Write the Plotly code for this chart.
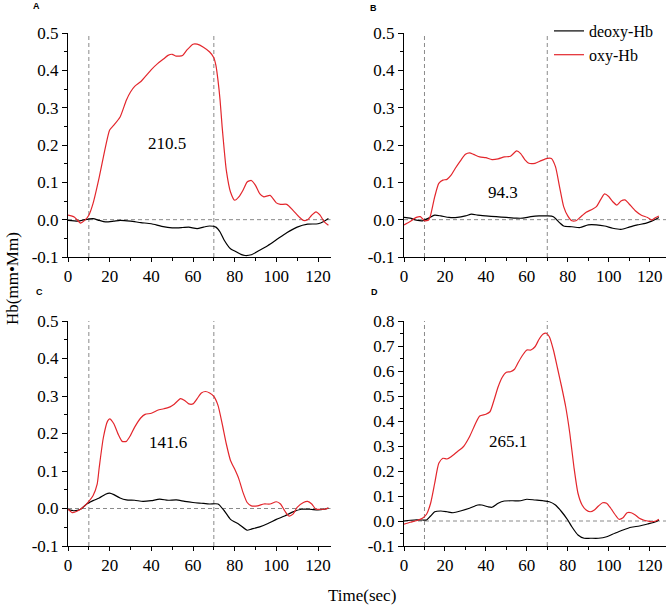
import plotly.graph_objects as go

# ---------------- data ----------------
# Panel A
a_oxy_t = [0, 3, 6, 8, 10, 12, 15, 18, 20, 22, 25, 28, 30, 32, 35, 38, 40, 43, 46, 48, 50, 52, 55, 57, 60, 62, 65, 68, 70, 71, 72, 73, 74, 75, 76, 78, 80, 82, 84, 86, 88, 90, 92, 94, 97, 100, 102, 105, 108, 111, 113, 115, 117, 119, 121, 123, 125]
a_oxy_v = [0.012, 0.007, -0.009, -0.002, 0.012, 0.043, 0.114, 0.195, 0.24, 0.253, 0.275, 0.32, 0.342, 0.357, 0.37, 0.389, 0.402, 0.418, 0.431, 0.44, 0.443, 0.438, 0.44, 0.454, 0.47, 0.47, 0.462, 0.449, 0.434, 0.413, 0.373, 0.32, 0.248, 0.186, 0.132, 0.074, 0.052, 0.061, 0.079, 0.101, 0.105, 0.092, 0.07, 0.061, 0.065, 0.045, 0.041, 0.041, 0.025, 0.007, -0.002, 0.0, 0.012, 0.021, 0.012, -0.006, -0.015]
a_deoxy_t = [0, 5, 8, 12, 15, 18, 22, 25, 30, 35, 40, 45, 50, 55, 58, 62, 65, 68, 71, 73, 75, 78, 80, 83, 85, 88, 92, 96, 100, 105, 110, 115, 120, 123, 125]
a_deoxy_v = [-0.002, -0.004, 0.0, 0.003, -0.002, -0.006, -0.004, -0.002, -0.004, -0.008, -0.011, -0.018, -0.022, -0.021, -0.02, -0.024, -0.02, -0.017, -0.02, -0.033, -0.055, -0.078, -0.084, -0.093, -0.096, -0.094, -0.082, -0.069, -0.054, -0.035, -0.02, -0.012, -0.011, -0.004, 0.003]

# Panel B
b_oxy_t = [0, 3, 6, 8, 10, 12, 13, 15, 17, 19, 21, 23, 25, 28, 30, 32, 34, 37, 40, 43, 46, 49, 52, 55, 57, 59, 61, 64, 67, 70, 72, 74, 76, 78, 80, 82, 84, 86, 89, 92, 94, 96, 98, 100, 102, 104, 106, 108, 110, 113, 116, 119, 121, 123, 124.5]
b_oxy_v = [-0.014, -0.005, 0.006, 0.008, -0.003, -0.001, 0.012, 0.061, 0.097, 0.106, 0.108, 0.119, 0.137, 0.161, 0.175, 0.179, 0.175, 0.168, 0.166, 0.161, 0.163, 0.168, 0.17, 0.184, 0.177, 0.161, 0.151, 0.151, 0.158, 0.164, 0.164, 0.142, 0.088, 0.035, 0.01, -0.003, -0.003, 0.006, 0.02, 0.028, 0.035, 0.053, 0.069, 0.062, 0.048, 0.039, 0.05, 0.053, 0.042, 0.024, 0.012, 0.006, -0.001, 0.006, 0.01]
b_deoxy_t = [0, 3, 6, 9, 12, 15, 18, 22, 26, 30, 33, 36, 40, 45, 50, 55, 58, 62, 66, 70, 73, 76, 78, 82, 86, 90, 94, 98, 102, 106, 110, 114, 118, 121, 124.5]
b_deoxy_v = [0.006, 0.004, -0.001, -0.003, 0.004, 0.012, 0.01, 0.006, 0.006, 0.01, 0.015, 0.012, 0.01, 0.008, 0.006, 0.004, 0.004, 0.008, 0.01, 0.01, 0.008, -0.008, -0.017, -0.019, -0.021, -0.014, -0.014, -0.017, -0.023, -0.026, -0.02, -0.014, -0.01, -0.004, 0.006]

# Panel C
c_oxy_t = [0, 2, 4, 6, 8, 10, 12, 14, 15, 17, 19, 20, 22, 24, 26, 28, 30, 32, 35, 37, 40, 43, 46, 49, 51, 54, 56, 58, 60, 62, 64, 66, 68, 70, 72, 74, 76, 78, 80, 82, 84, 86, 88, 91, 94, 97, 100, 102, 104, 106, 108, 110, 113, 115, 117, 119, 121, 123, 125]
c_oxy_v = [-0.002, -0.011, -0.008, -0.002, 0.007, 0.019, 0.034, 0.065, 0.11, 0.19, 0.233, 0.239, 0.226, 0.199, 0.179, 0.179, 0.195, 0.217, 0.242, 0.251, 0.254, 0.262, 0.266, 0.271, 0.278, 0.293, 0.288, 0.279, 0.279, 0.293, 0.308, 0.312, 0.308, 0.299, 0.275, 0.226, 0.172, 0.128, 0.105, 0.079, 0.043, 0.016, 0.007, 0.007, 0.012, 0.012, 0.018, 0.012, -0.006, -0.02, -0.015, 0.003, 0.016, 0.019, 0.012, -0.002, -0.002, -0.002, 0.001]
c_deoxy_t = [0, 3, 6, 9, 12, 15, 18, 20, 22, 25, 28, 32, 36, 40, 44, 48, 52, 56, 60, 64, 68, 72, 75, 78, 82, 86, 88, 92, 96, 100, 104, 108, 112, 116, 120, 123, 125]
c_deoxy_v = [-0.002, -0.006, -0.002, 0.012, 0.021, 0.028, 0.038, 0.041, 0.037, 0.028, 0.023, 0.022, 0.019, 0.021, 0.025, 0.022, 0.023, 0.019, 0.016, 0.014, 0.012, 0.012, -0.006, -0.029, -0.042, -0.058, -0.055, -0.049, -0.04, -0.029, -0.02, -0.009, -0.002, -0.002, -0.004, -0.002, 0.001]

# Panel D
d_oxy_t = [0, 3, 6, 9, 11, 13, 15, 17, 19, 21, 23, 26, 29, 32, 35, 37, 40, 42, 44, 46, 48, 50, 52, 54, 56, 58, 60, 62, 64, 66, 68, 69.5, 71, 73, 75, 77, 79, 81, 83, 85, 87, 89, 91, 93, 95, 97, 99, 101, 103, 105, 107, 109, 111, 113, 115, 117, 119, 121, 123, 124.5]
d_oxy_v = [-0.013, -0.005, 0.001, 0.011, 0.027, 0.071, 0.151, 0.231, 0.251, 0.248, 0.257, 0.277, 0.297, 0.337, 0.391, 0.42, 0.427, 0.437, 0.484, 0.537, 0.575, 0.595, 0.597, 0.607, 0.637, 0.664, 0.684, 0.684, 0.697, 0.727, 0.748, 0.751, 0.737, 0.684, 0.611, 0.537, 0.457, 0.351, 0.217, 0.111, 0.064, 0.044, 0.037, 0.044, 0.06, 0.073, 0.071, 0.051, 0.027, 0.007, 0.013, 0.033, 0.033, 0.024, 0.011, 0.004, 0.0, -0.003, 0.0, 0.007]
d_deoxy_t = [0, 5, 9, 11, 13, 15, 18, 21, 24, 28, 32, 36, 38, 41, 43, 46, 49, 53, 57, 60, 64, 68, 71, 74, 77, 80, 82, 85, 88, 91, 95, 99, 103, 107, 111, 115, 119, 123, 124.5]
d_deoxy_v = [0.0, 0.004, 0.004, 0.004, 0.02, 0.037, 0.04, 0.037, 0.033, 0.041, 0.051, 0.064, 0.064, 0.057, 0.055, 0.071, 0.08, 0.081, 0.081, 0.087, 0.084, 0.081, 0.077, 0.064, 0.037, 0.004, -0.023, -0.056, -0.069, -0.069, -0.069, -0.063, -0.049, -0.036, -0.025, -0.02, -0.012, -0.003, 0.004]

panel_letters = ["A", "B", "C", "D"]
area_labels = ["210.5", "94.3", "141.6", "265.1"]
area_label_x = [47.5, 48.5, 48.2, 51.0]
area_label_y = [0.203, 0.072, 0.177, 0.317]

x_tick_vals = [0, 20, 40, 60, 80, 100, 120]
x_tick_text = ["0", "20", "40", "60", "80", "100", "120"]
y_tick_vals = [-0.1, 0.0, 0.1, 0.2, 0.3, 0.4, 0.5]
y_tick_text = ["-0.1", "0.0", "0.1", "0.2", "0.3", "0.4", "0.5"]
yd_tick_vals = [-0.1, 0.0, 0.1, 0.2, 0.3, 0.4, 0.5, 0.6, 0.7, 0.8]
yd_tick_text = ["-0.1", "0.0", "0.1", "0.2", "0.3", "0.4", "0.5", "0.6", "0.7", "0.8"]
stim_on, stim_off = 10, 70

# ---------------- figure ----------------
W, H = 669, 610
RED = "#e3262c"
GRAY = "#8a8a8a"
SERIF = "Liberation Serif"

fig = go.Figure()

panels = [
    (a_oxy_t, a_oxy_v, a_deoxy_t, a_deoxy_v),
    (b_oxy_t, b_oxy_v, b_deoxy_t, b_deoxy_v),
    (c_oxy_t, c_oxy_v, c_deoxy_t, c_deoxy_v),
    (d_oxy_t, d_oxy_v, d_deoxy_t, d_deoxy_v),
]

# pixel boxes (left, right, top, bottom)
boxes = [
    (68, 330.5, 33, 257),
    (404, 666, 33, 257),
    (68, 330.5, 321, 546),
    (404, 666, 321, 546),
]
xranges = [[0, 126], [0, 128], [0, 126], [0, 128]]
yranges = [[-0.1, 0.5], [-0.1, 0.5], [-0.1, 0.5], [-0.1, 0.8]]

for i, (ot, ov, dt, dv) in enumerate(panels):
    xa = "x" if i == 0 else f"x{i+1}"
    ya = "y" if i == 0 else f"y{i+1}"
    fig.add_trace(go.Scatter(x=dt, y=dv, mode="lines", name="deoxy-Hb",
                             line=dict(color="black", width=1.2, shape="spline", smoothing=0.6),
                             showlegend=(i == 0), xaxis=xa, yaxis=ya))
    fig.add_trace(go.Scatter(x=ot, y=ov, mode="lines", name="oxy-Hb",
                             line=dict(color=RED, width=1.2, shape="spline", smoothing=0.6),
                             showlegend=(i == 0), xaxis=xa, yaxis=ya))

layout = {}
for i, (l, r, t, b) in enumerate(boxes):
    xk = "xaxis" if i == 0 else f"xaxis{i+1}"
    yk = "yaxis" if i == 0 else f"yaxis{i+1}"
    xa = "x" if i == 0 else f"x{i+1}"
    ya = "y" if i == 0 else f"y{i+1}"
    layout[xk] = dict(domain=[l / W, r / W], range=xranges[i], anchor=ya,
                      showline=True, linecolor="black", linewidth=1,
                      ticks="outside", ticklen=4, tickcolor="black", tickwidth=1,
                      tickvals=x_tick_vals, ticktext=x_tick_text,
                      minor=dict(dtick=10, tick0=0, ticks="outside", ticklen=3, tickcolor="black"),
                      showgrid=False, zeroline=False, automargin=False,
                      tickfont=dict(family=SERIF, size=17, color="black"))
    if i == 3:
        tv, tt = yd_tick_vals, yd_tick_text
    else:
        tv, tt = y_tick_vals, y_tick_text
    layout[yk] = dict(domain=[1 - b / H, 1 - t / H], range=yranges[i], anchor=xa,
                      showline=True, linecolor="black", linewidth=1,
                      ticks="outside", ticklen=5, tickcolor="black", tickwidth=1,
                      tickvals=tv, ticktext=tt,
                      minor=dict(dtick=0.05, tick0=0, ticks="outside", ticklen=3, tickcolor="black"),
                      showgrid=False, zeroline=False, automargin=False,
                      tickfont=dict(family=SERIF, size=17, color="black"))

fig.update_layout(**layout)

shapes = []
annotations = []
letter_pos = [(36, 6), (373, 8), (39, 292), (374, 292)]
for i in range(4):
    xa = "x" if i == 0 else f"x{i+1}"
    ya = "y" if i == 0 else f"y{i+1}"
    for sx in (stim_on, stim_off):
        shapes.append(dict(type="line", xref=xa, yref=f"{ya} domain", x0=sx, x1=sx, y0=0, y1=1,
                           line=dict(color=GRAY, width=1, dash="4px,3px"), layer="below"))
    shapes.append(dict(type="line", xref=f"{xa} domain", yref=ya, x0=0, x1=1, y0=0, y1=0,
                       line=dict(color=GRAY, width=1, dash="4px,3px"), layer="below"))
    annotations.append(dict(x=area_label_x[i], y=area_label_y[i], xref=xa, yref=ya,
                            text=area_labels[i], showarrow=False,
                            font=dict(family=SERIF, size=17, color="black")))
    px, py = letter_pos[i]
    annotations.append(dict(x=px / W, y=1 - py / H, xref="paper", yref="paper",
                            text=f"<b>{panel_letters[i]}</b>", showarrow=False,
                            xanchor="center", yanchor="middle",
                            font=dict(family="Liberation Sans", size=9, color="black")))

annotations.append(dict(x=12 / W, y=1 - 279 / H, xref="paper", yref="paper",
                        text="Hb(mm•Mm)", textangle=-90, showarrow=False,
                        xanchor="center", yanchor="middle",
                        font=dict(family=SERIF, size=17, color="black")))
annotations.append(dict(x=362 / W, y=1 - 595 / H, xref="paper", yref="paper",
                        text="Time(sec)", showarrow=False,
                        xanchor="center", yanchor="middle",
                        font=dict(family=SERIF, size=17, color="black")))

fig.update_layout(
    width=W, height=H,
    margin=dict(l=0, r=0, t=0, b=0, pad=0, autoexpand=False),
    paper_bgcolor="white", plot_bgcolor="white",
    shapes=shapes, annotations=annotations,
    showlegend=True,
    legend=dict(x=549 / W, y=1 - 14 / H, xanchor="left", yanchor="top",
                bgcolor="rgba(0,0,0,0)", borderwidth=0,
                font=dict(family=SERIF, size=16, color="black"),
                tracegroupgap=0, itemwidth=30),
)

fig.write_html("out.html",
               config={"displayModeBar": False},
               post_script="document.body.style.margin='0';document.body.style.padding='0';")
